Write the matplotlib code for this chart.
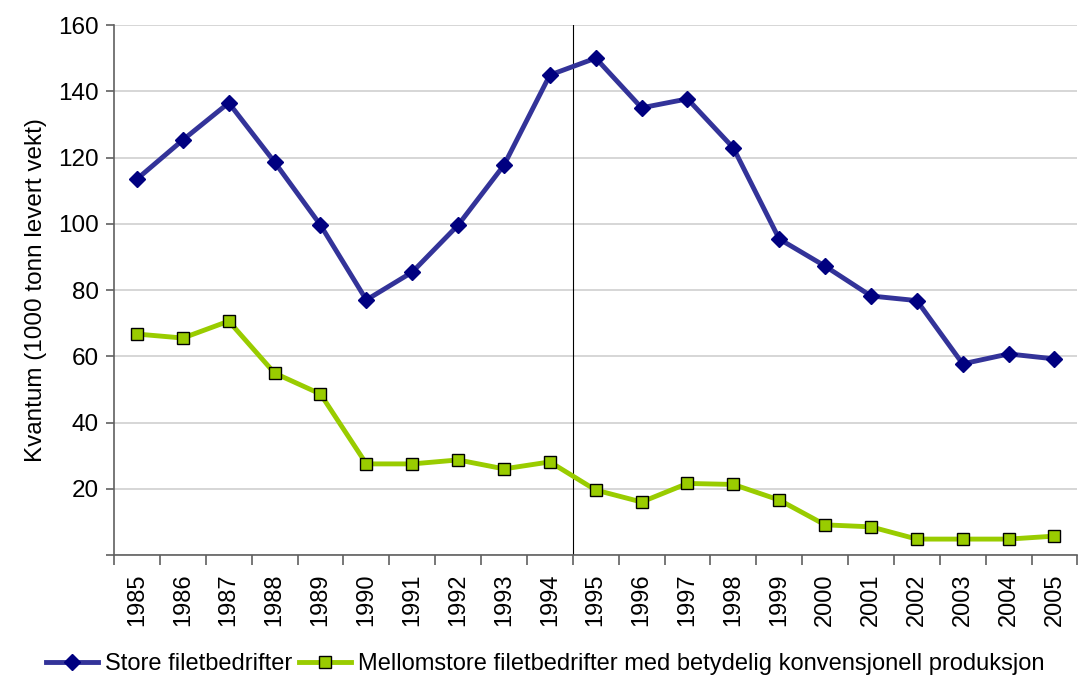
import matplotlib
matplotlib.use("Agg")
import matplotlib.pyplot as plt
import numpy as np

plt.rcParams['font.family'] = ['Liberation Sans', 'DejaVu Sans']

years = [str(y) for y in range(1985, 2006)]
store = [113.5, 125.3, 136.5, 118.6, 99.6, 77.0, 85.4, 99.6, 117.7, 144.9,
         150.0, 135.0, 137.7, 122.9, 95.4, 87.2, 78.2, 76.8, 57.7, 60.7, 59.2]
mellom = [66.7, 65.5, 70.6, 54.9, 48.6, 27.5, 27.5, 28.7, 26.0, 28.1,
          19.6, 16.0, 21.6, 21.3, 16.6, 9.1, 8.5, 4.8, 4.8, 4.8, 5.7]
yticks = [20, 40, 60, 80, 100, 120, 140, 160]
label_store = "Store filetbedrifter"
label_mellom = "Mellomstore filetbedrifter med betydelig konvensjonell produksjon"
ylabel = "Kvantum (1000 tonn levert vekt)"

fig = plt.figure(figsize=(10.8, 6.76), dpi=100)
ax = fig.add_axes([0.1056, 0.179, 0.892, 0.784])
x = np.arange(len(years))

ax.plot(x, store, color='#333399', lw=3.5, marker='D', ms=8.5,
        mfc='#000080', mec='#000080', label=label_store, zorder=3)
ax.plot(x, mellom, color='#99CC00', lw=3.5, marker='s', ms=9,
        mfc='#99CC00', mec='black', mew=1.0, label=label_mellom, zorder=3)

ax.axvline(9.5, color='black', lw=0.8, zorder=2)

ax.set_xlim(-0.5, len(years) - 0.5)
ax.set_ylim(0, 160)
ax.set_yticks([0] + yticks)
ax.set_yticklabels([''] + [str(v) for v in yticks])
ax.yaxis.grid(True, color='#d0d0d0', lw=1.2)
ax.set_axisbelow(True)

ax.set_xticks(np.arange(-0.5, len(years), 1.0))
ax.set_xticklabels([])
ax.set_xticks(x, minor=True)
ax.set_xticklabels(years, minor=True, rotation=90)
ax.tick_params(axis='x', which='major', length=7, width=1.2, color='#606060', direction='out')
ax.tick_params(axis='x', which='minor', length=0, pad=13, labelsize=17)
ax.tick_params(axis='y', length=6, width=1.2, color='#606060', labelsize=17.5, pad=5)

for s in ['top', 'right']:
    ax.spines[s].set_visible(False)
ax.spines['left'].set_color('#606060')
ax.spines['bottom'].set_color('#606060')
ax.spines['left'].set_linewidth(1.2)
ax.spines['bottom'].set_linewidth(1.2)

ax.set_ylabel(ylabel, fontsize=17.5, labelpad=8)

fig.legend(loc='lower center', bbox_to_anchor=(0.505, -0.03), ncol=2, frameon=False,
           fontsize=17, handlelength=2.2, handletextpad=0.3, columnspacing=0.3)

fig.savefig('out.png', dpi=100)
